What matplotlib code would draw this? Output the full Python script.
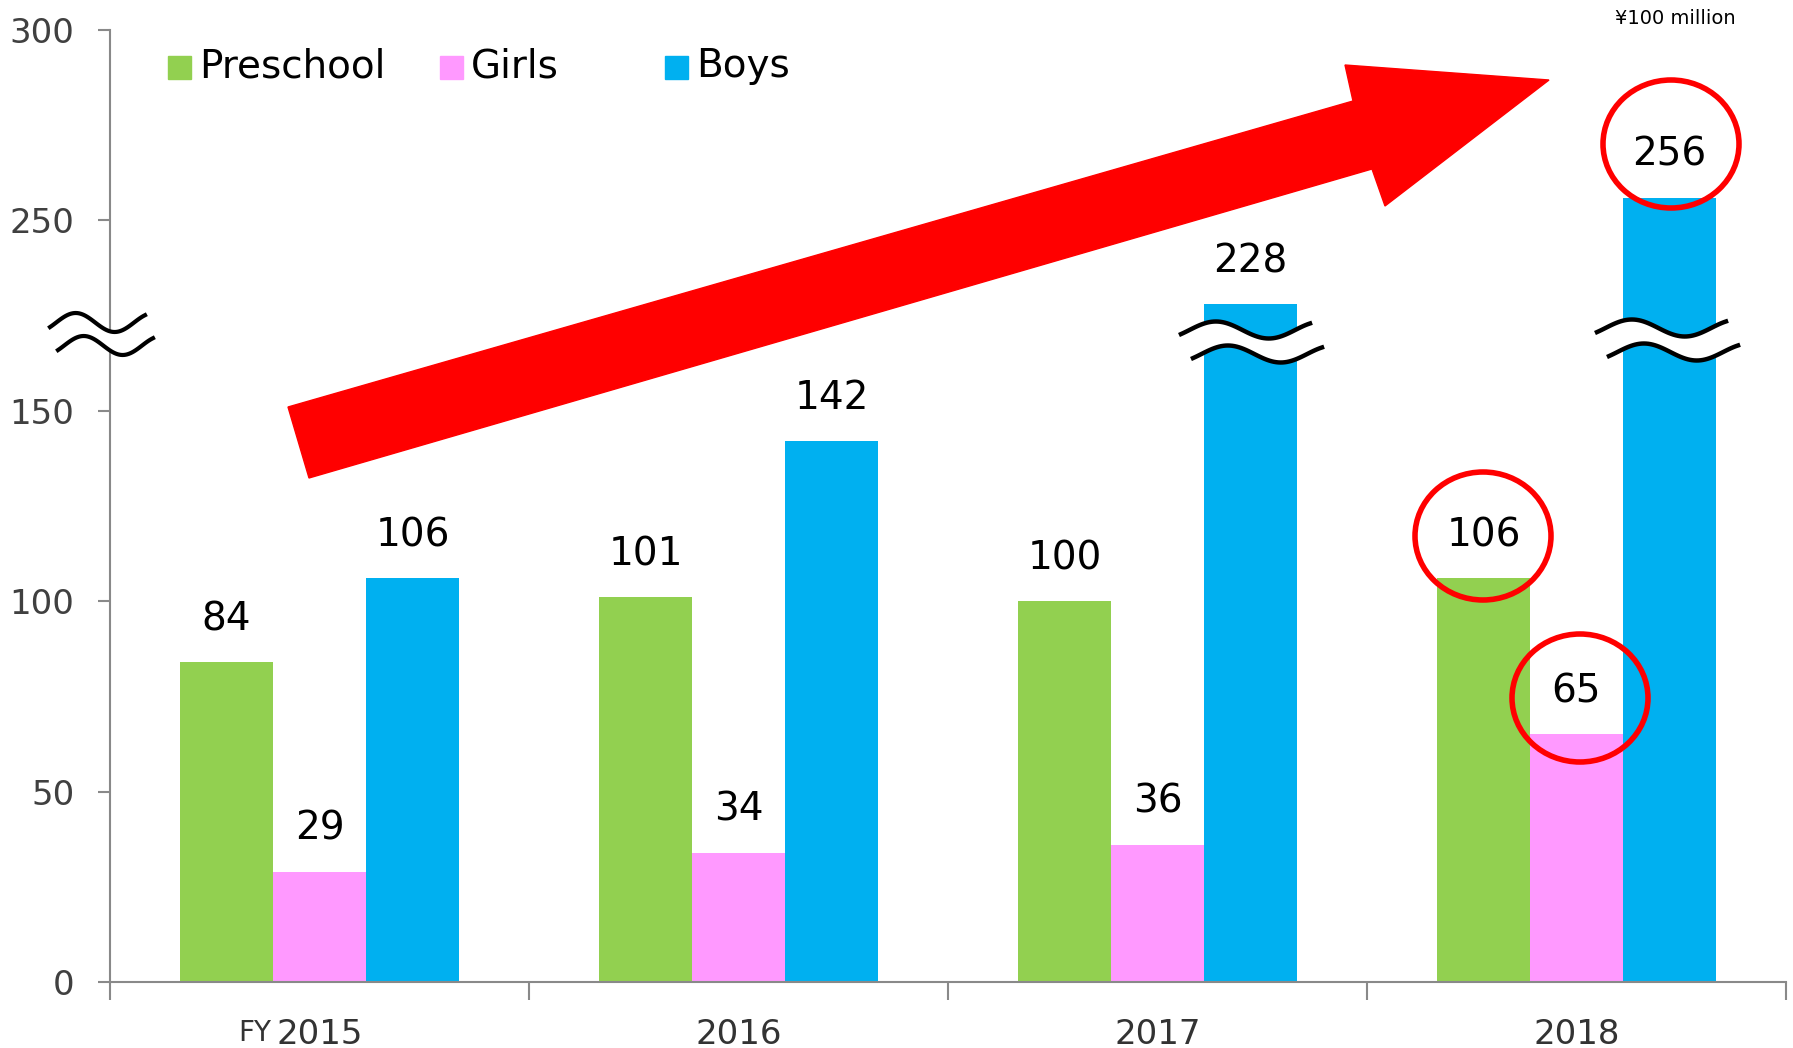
import numpy as np
import matplotlib.pyplot as plt
from matplotlib.patches import Polygon, Ellipse, Rectangle

years = ["2015", "2016", "2017", "2018"]
series = ["Preschool", "Girls", "Boys"]
preschool = [84, 101, 100, 106]
girls = [29, 34, 36, 65]
boys = [106, 142, 228, 256]
colors = ["#92D050", "#FF99FF", "#00B0F0"]

W, H = 1793, 1048
fig = plt.figure(figsize=(W / 100, H / 100), dpi=100)
ax = fig.add_axes([110 / W, 1 - 982 / H, (1786 - 110) / W, (982 - 30) / H])


# broken axis: 170..220 is squeezed out
def fwd(v):
    v = np.asarray(v, dtype=float)
    return np.where(v <= 170, v, np.where(v < 220, 170, v - 50))


def inv(y):
    y = np.asarray(y, dtype=float)
    return np.where(y <= 170, y, y + 50)


ax.set_yscale("function", functions=(fwd, inv))

x = np.arange(len(years))
bw = 0.222
for i, vals in enumerate([preschool, girls, boys]):
    bars = ax.bar(x + (i - 1) * bw, vals, bw, color=colors[i], zorder=2)
    for b, v in zip(bars, vals):
        ax.annotate(str(v), (b.get_x() + b.get_width() / 2, v),
                    xytext=(0, 31), textcoords="offset points",
                    ha="center", va="center", fontsize=28, color="black", zorder=5)

ax.set_xlim(-0.5, len(years) - 0.5)
ax.set_ylim(0, 300)
ax.set_yticks([0, 50, 100, 150, 250, 300])
ax.set_yticklabels(["0", "50", "100", "150", "250", "300"])
ax.set_xticks(x)
ax.set_xticklabels(years)
ax.set_xticks(np.arange(-0.5, len(years)), minor=True)

for s in ["top", "right"]:
    ax.spines[s].set_visible(False)
for s in ["left", "bottom"]:
    ax.spines[s].set_color("#898989")
    ax.spines[s].set_linewidth(1.5)

ax.tick_params(axis="y", length=8.6, width=1.5, color="#898989", pad=17,
               labelsize=24.5, labelcolor="#404040")
ax.tick_params(axis="x", which="major", length=0, pad=26, labelsize=24.5, labelcolor="#333333")
ax.tick_params(axis="x", which="minor", length=13, width=1.5, color="#898989")

ax.annotate("FY", (0, 0), xycoords=("data", "axes fraction"), xytext=(-35, -37),
            textcoords="offset points", ha="right", va="center", fontsize=20, color="#333333")


def px(pts):
    return [(a / W, 1 - b / H) for a, b in pts]


# big red arrow
arrow = [(288, 407), (1353, 101), (1345, 65), (1549, 80), (1385, 206), (1372, 169), (309, 478)]
fig.patches.append(Polygon(px(arrow), closed=True, color="#FF0000", transform=fig.transFigure, zorder=4))


# break marks
def wave(x0, c, w, amp, n=60):
    t = np.linspace(0, 1, n)
    return x0 + t * w, c - amp * np.cos(2 * np.pi * (1.22 * t - 0.33))


def brk(x0, c, w, amp, dx, dy, lw):
    xs, ys = wave(x0, c, w, amp)
    top = list(zip(xs, ys))
    bot = list(zip(xs + dx, ys + dy))
    band = top + bot[::-1]
    fig.patches.append(Polygon(px(band), closed=True, facecolor="white", edgecolor="none",
                               transform=fig.transFigure, zorder=6))
    for line in (top, bot):
        p = np.array(px(line))
        fig.lines.append(plt.Line2D(p[:, 0], p[:, 1], color="black", lw=lw,
                                    transform=fig.transFigure, zorder=7))


brk(50, 322.5, 95, 9.5, 8, 23, 3)
brk(1181, 330, 129, 8.5, 12, 24, 3.2)
brk(1597, 328, 129, 8.5, 12, 24, 3.2)

# red circles
for cx, cy in [(1671, 144), (1483, 536), (1580, 698)]:
    fig.patches.append(Ellipse((cx / W, 1 - cy / H), 136 / W, 128 / H, fill=False,
                               edgecolor="#FF0000", lw=4, transform=fig.transFigure, zorder=8))

# legend
leg_x = [168, 440, 665]
for lx, name, c in zip(leg_x, series, colors):
    fig.patches.append(Rectangle((lx / W, 1 - 79 / H), 23 / W, 23 / H, color=c,
                                 transform=fig.transFigure, zorder=3))
    fig.text((lx + 31) / W, 1 - 66 / H, name, fontsize=28, va="center", ha="left")

fig.text(1675 / W, 1 - 18 / H, "¥100 million", fontsize=14, ha="center", va="center")

fig.savefig("out.png", dpi=100)
